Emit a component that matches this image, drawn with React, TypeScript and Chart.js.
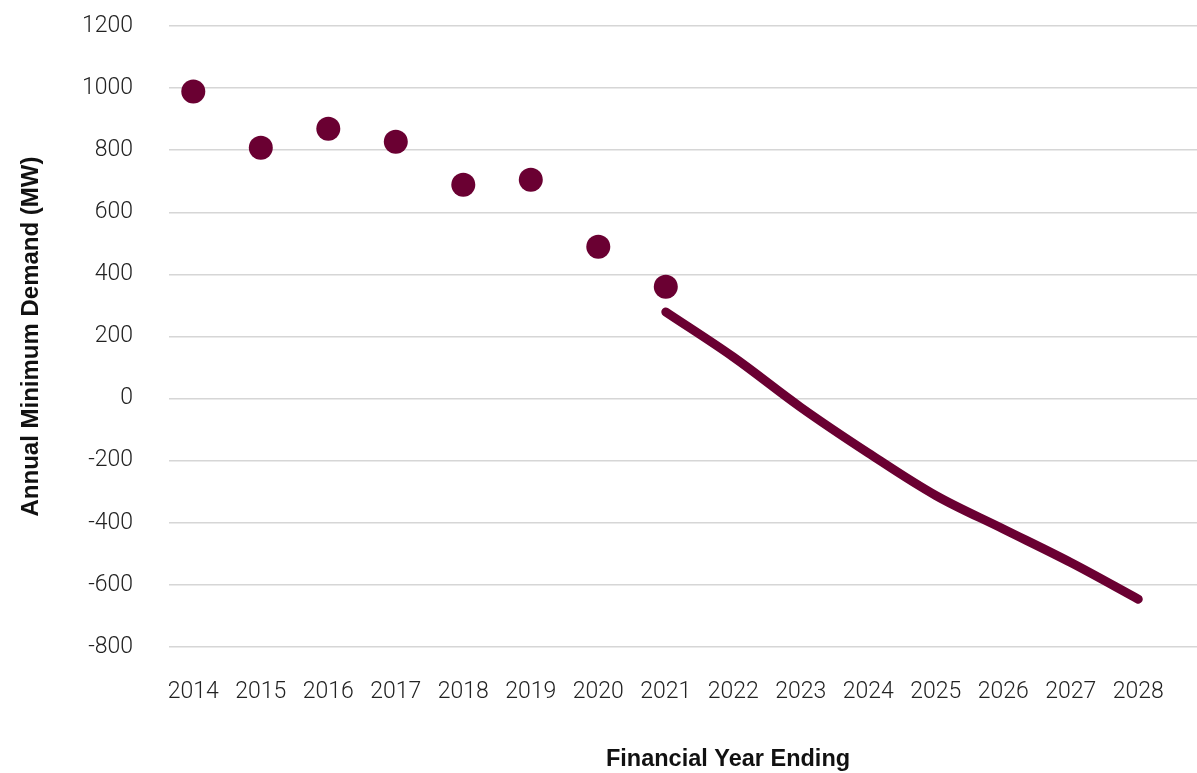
import { useEffect, useRef } from "react";
import { Chart, registerables } from "chart.js";

Chart.register(...registerables);

// Financial years shown on the x axis
const years = [2014, 2015, 2016, 2017, 2018, 2019, 2020, 2021, 2022, 2023, 2024, 2025, 2026, 2027, 2028];

// Recorded annual minimum demand (MW)
const actualYears = [2014, 2015, 2016, 2017, 2018, 2019, 2020, 2021];
const actualDemand = [989, 808, 869, 827, 689, 705, 489, 360];

// Forecast annual minimum demand (MW)
const forecastYears = [2021, 2022, 2023, 2024, 2025, 2026, 2027, 2028];
const forecastDemand = [279, 134, -28, -175, -312, -420, -528, -646];

// Value axis ticks
const yTicks = [-800, -600, -400, -200, 0, 200, 400, 600, 800, 1000, 1200];

const Y_TITLE = "Annual Minimum Demand (MW)";
const X_TITLE = "Financial Year Ending";

const MAROON = "#6a0032";
const TICK_FONT = { family: "Roboto, 'Liberation Sans', Arial, sans-serif", size: 23, weight: 300 as const };
const TITLE_FAMILY = "'Liberation Sans', Arial, Helvetica, sans-serif";

// Draws the x-axis caption under the year labels
const xTitlePlugin = {
  id: "xTitleCaption",
  afterDraw(chart: Chart) {
    const { ctx, chartArea } = chart;
    ctx.save();
    ctx.font = `bold 23.5px ${TITLE_FAMILY}`;
    ctx.fillStyle = "#111";
    ctx.textAlign = "center";
    ctx.textBaseline = "middle";
    ctx.fillText(X_TITLE, chartArea.left + 559, 760);
    ctx.restore();
  },
};

export default function App() {
  const canvasRef = useRef<HTMLCanvasElement | null>(null);

  useEffect(() => {
    if (!canvasRef.current) return;
    const chart = new Chart(canvasRef.current, {
      type: "line",
      data: {
        datasets: [
          {
            label: "Actual",
            data: actualYears.map((x, i) => ({ x, y: actualDemand[i] })),
            showLine: false,
            pointRadius: 12,
            pointBorderWidth: 0,
            pointBackgroundColor: MAROON,
            pointBorderColor: MAROON,
            backgroundColor: MAROON,
            borderColor: MAROON,
          },
          {
            label: "Forecast",
            data: forecastYears.map((x, i) => ({ x, y: forecastDemand[i] })),
            borderColor: MAROON,
            borderWidth: 9,
            borderCapStyle: "round",
            borderJoinStyle: "round",
            pointRadius: 0,
            tension: 0.35,
            fill: false,
          },
        ],
      },
      options: {
        responsive: false,
        animation: false,
        devicePixelRatio: 1,
        layout: { autoPadding: false, padding: { top: 26, left: 0, right: 0, bottom: 0 } },
        plugins: {
          legend: { display: false },
          tooltip: { enabled: false },
        },
        scales: {
          x: {
            type: "linear",
            min: 2013.64,
            max: 2028.87,
            grid: { display: false, drawTicks: false },
            border: { display: false },
            afterBuildTicks: (scale: any) => {
              scale.ticks = years.map((v) => ({ value: v }));
            },
            afterFit: (scale: any) => {
              scale.height = 126;
              scale.paddingLeft = 0;
              scale.paddingRight = 0;
            },
            ticks: {
              autoSkip: false,
              maxRotation: 0,
              padding: 31,
              color: "#222",
              font: TICK_FONT,
              callback: (v: any) => String(v),
            },
          },
          y: {
            min: -800,
            max: 1200,
            afterBuildTicks: (scale: any) => {
              scale.ticks = yTicks.map((v) => ({ value: v }));
            },
            afterFit: (scale: any) => {
              scale.width = 169;
              scale.paddingTop = 0;
              scale.paddingBottom = 0;
            },
            grid: { color: "#d6d6d6", lineWidth: 1.5, drawTicks: false },
            border: { display: false },
            ticks: {
              padding: 36,
              color: "#222",
              font: TICK_FONT,
              callback: (v: any) => String(v),
            },
            title: {
              display: true,
              text: Y_TITLE,
              color: "#111",
              padding: { top: 17, bottom: 0 },
              font: { family: TITLE_FAMILY, size: 24, weight: "bold" },
            },
          },
        },
      },
      plugins: [xTitlePlugin],
    });
    return () => chart.destroy();
  }, []);

  return (
    <div style={{ position: "fixed", left: 0, top: 0, width: 1197, height: 773, background: "#fff" }}>
      <canvas ref={canvasRef} width={1197} height={773} style={{ display: "block" }} />
    </div>
  );
}
